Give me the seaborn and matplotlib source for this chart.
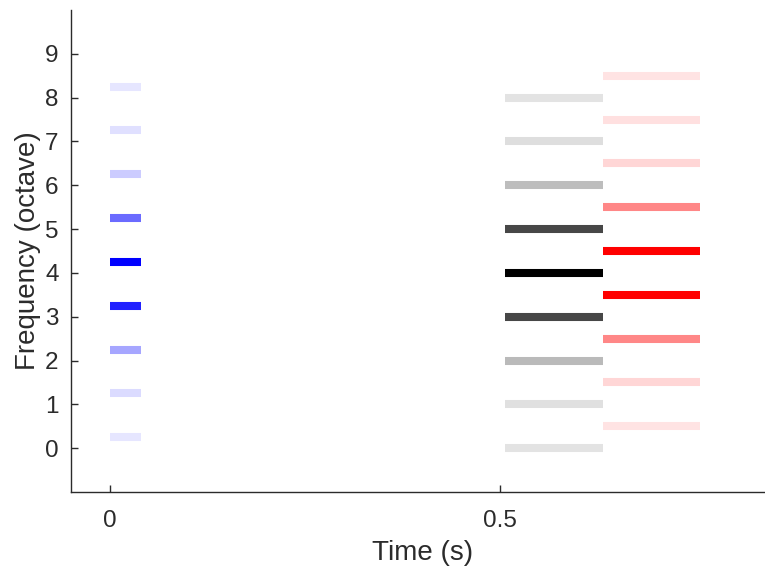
import matplotlib
matplotlib.use("Agg")
import matplotlib.pyplot as plt
import seaborn as sns
import pandas as pd
import numpy as np

# ---- data ----
blue_freqs = [0.25, 1.25, 2.25, 3.25, 4.25, 5.25, 6.25, 7.25, 8.25]
blue_amps = [0.10, 0.14, 0.35, 0.87, 1.00, 0.58, 0.20, 0.12, 0.10]
blue_time = [0.0, 0.04]

gray_freqs = [0, 1, 2, 3, 4, 5, 6, 7, 8]
gray_amps = [0.11, 0.12, 0.27, 0.72, 1.00, 0.72, 0.26, 0.13, 0.11]
gray_time = [0.506, 0.631]

red_freqs = [0.5, 1.5, 2.5, 3.5, 4.5, 5.5, 6.5, 7.5, 8.5]
red_amps = [0.11, 0.16, 0.47, 1.00, 1.00, 0.47, 0.16, 0.12, 0.11]
red_time = [0.631, 0.756]

x_ticks = [0, 0.5]
x_ticklabels = ["0", "0.5"]
y_ticks = list(range(10))

sns.set_theme(style="ticks")
plt.rcParams['font.family'] = ['Liberation Sans', 'DejaVu Sans']

rows = []
palette = {}
def add(name, freqs, amps, times, base):
    for i, (f, a) in enumerate(zip(freqs, amps)):
        seg = f"{name}{i}"
        for t in times:
            rows.append({"t": t, "freq": f, "seg": seg})
        if base == "blue":
            palette[seg] = (1 - a, 1 - a, 1.0)
        elif base == "red":
            palette[seg] = (1.0, 1 - a, 1 - a)
        else:
            palette[seg] = (1 - a, 1 - a, 1 - a)

add("b", blue_freqs, blue_amps, blue_time, "blue")
add("g", gray_freqs, gray_amps, gray_time, "gray")
add("r", red_freqs, red_amps, red_time, "red")
df = pd.DataFrame(rows)

txt = "#2b2b2b"
fig = plt.figure(figsize=(7.65, 5.66), dpi=100)
ax = fig.add_axes([71/765, 74/566, 1 - 71/765, (492 - 10)/566])
sns.lineplot(data=df, x="t", y="freq", hue="seg", palette=palette, legend=False,
             linewidth=5.8, estimator=None, sort=False, ax=ax, solid_capstyle="butt")

ax.set_xlim(-0.05, 0.839)
ax.set_ylim(-1, 10)
ax.set_xticks(x_ticks)
ax.set_xticklabels(x_ticklabels)
ax.set_yticks(y_ticks)
ax.tick_params(direction="in", length=5, width=1, colors=txt, labelsize=17.5)
ax.tick_params(axis="x", pad=13)
ax.tick_params(axis="y", pad=9)
ax.set_xlabel("Time (s)", fontsize=20, color=txt, labelpad=6)
ax.xaxis.label.set_x(0.507)
ax.set_ylabel("Frequency (octave)", fontsize=20, color=txt, labelpad=3)
for s in ["top", "right"]:
    ax.spines[s].set_visible(False)
for s in ["left", "bottom"]:
    ax.spines[s].set_color(txt)
    ax.spines[s].set_linewidth(1)

fig.savefig("out.png", dpi=100)
